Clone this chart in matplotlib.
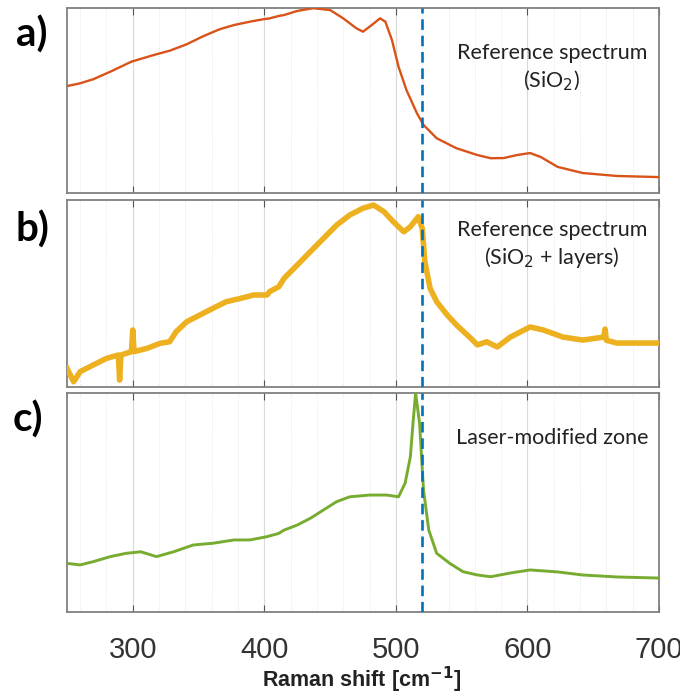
import matplotlib.pyplot as plt
from matplotlib.ticker import MultipleLocator
from matplotlib.patches import Rectangle

# Raman shift [cm-1] and normalised intensity
shift_a = [250, 260, 270, 283, 299, 316, 328, 341, 354, 366, 377, 389, 399, 404, 411,
           415, 425, 437, 450, 460, 470, 475, 480, 488, 492, 497, 502, 508, 516, 521,
           531, 546, 562, 572, 582, 592, 602, 610, 623, 642, 668, 700]
int_a = [0.578, 0.593, 0.615, 0.656, 0.710, 0.746, 0.769, 0.804, 0.849, 0.885, 0.908,
         0.926, 0.939, 0.944, 0.957, 0.962, 0.984, 0.999, 0.989, 0.944, 0.890, 0.872,
         0.899, 0.944, 0.926, 0.827, 0.683, 0.557, 0.431, 0.368, 0.296, 0.242, 0.205,
         0.188, 0.189, 0.205, 0.216, 0.195, 0.141, 0.108, 0.092, 0.086]

shift_b = [250, 255, 260, 270, 280, 289, 290, 291, 299, 300, 301, 311, 321, 328, 333,
           341, 351, 361, 371, 382, 392, 402, 404, 411, 415, 425, 435, 445, 455, 465,
           475, 483, 491, 498, 506, 511, 517, 520, 522, 526, 531, 539, 546, 557, 562,
           569, 577, 587, 602, 612, 627, 642, 658, 659, 660, 668, 688, 700]
int_b = [0.100, 0.028, 0.082, 0.118, 0.153, 0.171, 0.037, 0.171, 0.189, 0.305, 0.189,
         0.207, 0.234, 0.242, 0.296, 0.349, 0.385, 0.421, 0.456, 0.474, 0.492, 0.492,
         0.510, 0.536, 0.581, 0.652, 0.724, 0.795, 0.866, 0.920, 0.956, 0.973, 0.937,
         0.884, 0.830, 0.857, 0.911, 0.849, 0.670, 0.528, 0.456, 0.385, 0.332, 0.260,
         0.225, 0.242, 0.214, 0.267, 0.321, 0.305, 0.267, 0.251, 0.267, 0.310, 0.250,
         0.235, 0.235, 0.235]

shift_c = [250, 260, 270, 283, 295, 306, 318, 331, 346, 361, 377, 389, 402, 411, 415,
           425, 435, 445, 455, 465, 480, 493, 502, 507, 511, 513, 515, 518, 521, 525,
           531, 541, 551, 562, 572, 587, 602, 623, 642, 668, 700]
int_c = [0.222, 0.215, 0.230, 0.253, 0.268, 0.275, 0.253, 0.275, 0.306, 0.314, 0.329,
         0.329, 0.344, 0.359, 0.374, 0.397, 0.428, 0.466, 0.504, 0.526, 0.534, 0.534,
         0.526, 0.588, 0.709, 0.862, 0.999, 0.862, 0.557, 0.374, 0.268, 0.222, 0.184,
         0.169, 0.161, 0.178, 0.192, 0.183, 0.169, 0.160, 0.155]

labels = ["a)", "b)", "c)"]
notes = ["Reference spectrum\n(SiO$_2$)", "Reference spectrum\n(SiO$_2$ + layers)",
         "Laser-modified zone"]
colors = ["#D95319", "#EDB120", "#77AC30"]
si_peak = 520

W, H = 699, 698
fig = plt.figure(figsize=(W / 100, H / 100), dpi=100)
# panel boxes in pixels: left, top, right, bottom
px_boxes = [(67, 8, 659, 193), (67, 200, 659, 387), (67, 393, 659, 612)]
data = [(shift_a, int_a, 1.7), (shift_b, int_b, 4.0), (shift_c, int_c, 2.1)]
note_y = [0.676, 0.76, 0.795]
label_pos = [(32, 35), (32, 230), (28, 420)]

axes = []
for i, (l, t, r, b) in enumerate(px_boxes):
    ax = fig.add_axes([l / W, 1 - b / H, (r - l) / W, (b - t) / H])
    x, y, lw = data[i]
    ax.plot(x, y, color=colors[i], lw=lw, zorder=3, solid_joinstyle="round")
    ax.axvline(si_peak, color="#0072BD", lw=1.9, ls=(0, (4, 2.2)), zorder=4)
    ax.set_xlim(250, 700)
    ax.set_ylim(0, 1.0)
    ax.set_yticks([])
    ax.xaxis.set_major_locator(MultipleLocator(100))
    ax.xaxis.set_minor_locator(MultipleLocator(20))
    ax.grid(which="major", axis="x", color="#d9d9d9", lw=0.8)
    ax.grid(which="minor", axis="x", color="#e3e3e3", lw=0.7, ls=":")
    ax.tick_params(axis="x", which="major", direction="in", top=True, length=5,
                   color="#555555", labelsize=21, labelcolor="#333333", pad=17)
    ax.tick_params(axis="x", which="minor", length=0)
    for s in ax.spines.values():
        s.set_color("#808080")
        s.set_linewidth(1.3)
    if i < 2:
        ax.set_xticklabels([])
    ax.text(0.819, note_y[i], notes[i], transform=ax.transAxes, ha="center",
            va="center", fontsize=15.5, family="Lato", color="#222222",
            linespacing=1.3, zorder=5)
    fig.text(label_pos[i][0] / W, 1 - label_pos[i][1] / H, labels[i], ha="center",
             va="center", fontsize=29, fontweight="bold", family="Lato")
    axes.append(ax)

axes[2].set_xticks([300, 400, 500, 600, 700])
for lab in axes[2].get_xticklabels():
    lab.set_family("Liberation Sans")
fig.text(362 / W, 1 - 687 / H, "Raman shift [cm$^{\\mathbf{-1}}$]", ha="center",
         va="baseline", fontsize=15.5, fontweight="bold", family="Liberation Sans",
         color="#222222")

# the reference picture is cropped just right of the axes, cutting the "700" label
fig.patches.append(Rectangle((680 / W, 0), 1, 1, transform=fig.transFigure,
                             facecolor="white", edgecolor="none", zorder=10))

fig.savefig("out.png", dpi=100)
